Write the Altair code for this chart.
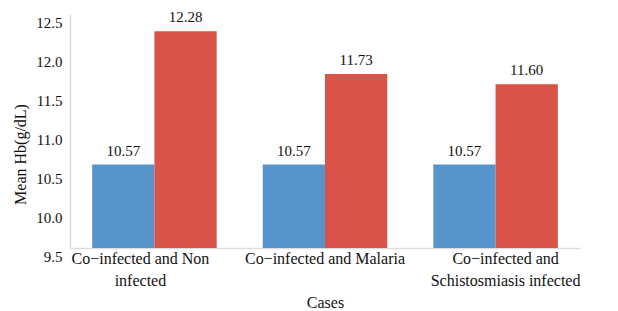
import altair as alt
import pandas as pd

categories = ["Co−infected and Non\ninfected", "Co−infected and Malaria", "Co−infected  and\nSchistosmiasis infected"]
series = ["Co-infected", "Comparison"]
coinfected_values = [10.57, 10.57, 10.57]
comparison_values = [12.28, 11.73, 11.60]
y_ticks = [9.5, 10.0, 10.5, 11.0, 11.5, 12.0, 12.5]
colors = ["#5694CB", "#D8534A"]

rows = []
for i, c in enumerate(categories):
    rows.append({"case": c, "group": series[0], "value": coinfected_values[i], "label": f"{coinfected_values[i]:.2f}"})
    rows.append({"case": c, "group": series[1], "value": comparison_values[i], "label": f"{comparison_values[i]:.2f}"})
df = pd.DataFrame(rows)

FONT = "Liberation Serif"

x = alt.X(
    "case:N",
    sort=categories,
    scale=alt.Scale(paddingInner=0.27, paddingOuter=0.13),
    axis=alt.Axis(
        title="Cases",
        labelAngle=0,
        labelExpr="split(datum.label, '\\n')",
        labelFont=FONT,
        labelFontSize=16,
        labelColor="#111",
        labelLineHeight=22,
        labelPadding=2,
        labelOffset={"expr": "datum.index == 0 ? -14 : (datum.index == 1 ? 10 : 0)"},
        ticks=False,
        domainColor="#dddddd",
        domainWidth=1.5,
        titleFont=FONT,
        titleFontSize=16,
        titleFontWeight="normal",
        titleColor="#111",
        titleY=54,
        titleBaseline="middle",
    ),
)

y = alt.Y(
    "value:Q",
    scale=alt.Scale(domain=[9.5, 12.5], nice=False, zero=False, clamp=True),
    axis=alt.Axis(
        title="Mean Hb(g/dL)",
        values=y_ticks,
        format=".1f",
        ticks=False,
        grid=False,
        labelOverlap=False,
        labelFont=FONT,
        labelFontSize=15,
        labelColor="#111",
        labelPadding=8,
        labelOffset=8,
        domainColor="#dddddd",
        domainWidth=1.5,
        titleFont=FONT,
        titleFontSize=16,
        titleFontWeight="normal",
        titleColor="#111",
        titleAngle=-90,
        titleAlign="center",
        titleBaseline="middle",
        titleX=-50,
        titleY=140,
    ),
)

base = alt.Chart(df).encode(
    x=x,
    y=y,
    xOffset=alt.XOffset("group:N", sort=series),
)

bars = base.mark_bar().encode(
    y2=alt.datum(9.5),
    color=alt.Color("group:N", sort=series, scale=alt.Scale(domain=series, range=colors), legend=None),
)

texts = base.mark_text(baseline="bottom", dy=-6, font=FONT, fontSize=15, color="#111").encode(
    text="label:N",
)

chart = (
    alt.layer(bars, texts)
    .properties(
        width=510,
        height=234,
        autosize=alt.AutoSizeParams(type="none"),
        padding={"left": 62, "top": 6, "right": 30, "bottom": 61},
        background="white",
    )
    .configure_view(stroke=None)
    .configure_axis(labelOverlap=False)
)

chart.save("out.html", embed_options={"renderer": "svg", "actions": False})
